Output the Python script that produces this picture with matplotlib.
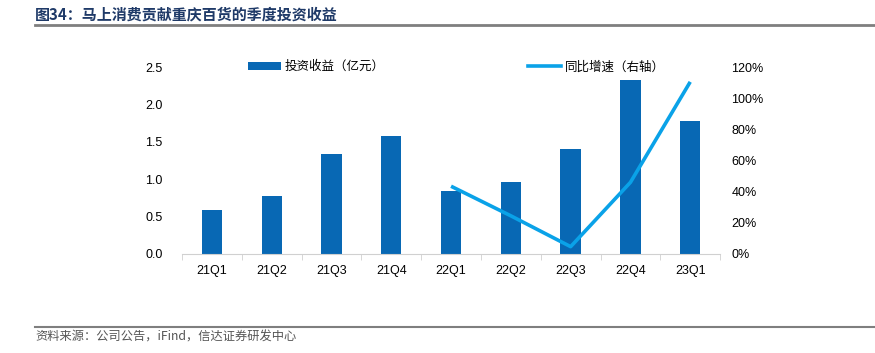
import matplotlib

matplotlib.use("Agg")
import matplotlib.pyplot as plt
from matplotlib.lines import Line2D
from matplotlib.ticker import FuncFormatter, MultipleLocator

plt.rcParams["font.family"] = ["Liberation Sans", "Noto Sans CJK SC", "DejaVu Sans"]

QUARTERS = ["21Q1", "21Q2", "21Q3", "21Q4", "22Q1", "22Q2", "22Q3", "22Q4", "23Q1"]
INCOME = [0.59, 0.78, 1.34, 1.58, 0.84, 0.96, 1.40, 2.33, 1.78]
YOY_QUARTERS = ["22Q1", "22Q2", "22Q3", "22Q4", "23Q1"]
YOY = [43.5, 24.5, 4.7, 46.0, 110.5]

BAR_COLOR = "#0868b4"
LINE_COLOR = "#0aa2e8"

fig = plt.figure(figsize=(8.75, 3.53), dpi=100)
ax = fig.add_axes([0.208, 0.2805, 0.615, 0.5295])

x = list(range(len(QUARTERS)))
ax.bar(x, INCOME, width=0.34, color=BAR_COLOR, label="投资收益（亿元）", zorder=2)
ax.set_xlim(-0.5, len(QUARTERS) - 0.5)
ax.set_ylim(0, 2.5)
ax.yaxis.set_major_locator(MultipleLocator(0.5))
ax.yaxis.set_major_formatter(FuncFormatter(lambda v, p: f"{v:.1f}"))
ax.set_xticks(x)
ax.set_xticklabels(QUARTERS)
ax.set_xticks([i + 0.5 for i in range(-1, len(QUARTERS))], minor=True)
ax.tick_params(axis="x", which="major", length=0, pad=8, labelsize=9)
ax.tick_params(axis="x", which="minor", length=4, color="#d0d0d0", direction="out")
ax.tick_params(axis="y", length=0, labelsize=9, pad=14)
for s in ["top", "left", "right"]:
    ax.spines[s].set_visible(False)
ax.spines["bottom"].set_color("#d0d0d0")

ax2 = ax.twinx()
xi = [QUARTERS.index(q) for q in YOY_QUARTERS]
ax2.plot(xi, YOY, color=LINE_COLOR, lw=2.6, label="同比增速（右轴）", solid_capstyle="butt")
ax2.set_ylim(0, 120)
ax2.yaxis.set_major_locator(MultipleLocator(20))
ax2.yaxis.set_major_formatter(FuncFormatter(lambda v, p: f"{v:.0f}%"))
ax2.tick_params(axis="y", length=0, labelsize=9, pad=8)
for s in ["top", "left", "right", "bottom"]:
    ax2.spines[s].set_visible(False)

h1, l1 = ax.get_legend_handles_labels()
ax.legend(h1, l1, loc="center", bbox_to_anchor=(0.25, 1.0), frameon=False,
          fontsize=9, handlelength=2.6, handleheight=0.6, handletextpad=0.3)
ax2.legend([Line2D([], [], color=LINE_COLOR, lw=2.6)], ["同比增速（右轴）"], loc="center",
           bbox_to_anchor=(0.77, 1.0), frameon=False, fontsize=9,
           handlelength=2.6, handletextpad=0.3)

fig.text(0.04, 0.958, "图34：马上消费贡献重庆百货的季度投资收益", fontsize=10.8, fontweight="bold",
         color="#1f3a68", family=["Noto Sans CJK SC"], va="center")
fig.add_artist(Line2D([0.04, 1.0], [0.93, 0.93], color="#7f7f7f", lw=2, transform=fig.transFigure))
fig.add_artist(Line2D([0.04, 1.0], [0.074, 0.074], color="#7f7f7f", lw=1.5, transform=fig.transFigure))
fig.text(0.04, 0.045, "资料来源：公司公告，iFind，信达证券研发中心", fontsize=8.8, color="#555555",
         family=["Noto Sans CJK SC"], va="center")

fig.savefig("out.png", dpi=100)
